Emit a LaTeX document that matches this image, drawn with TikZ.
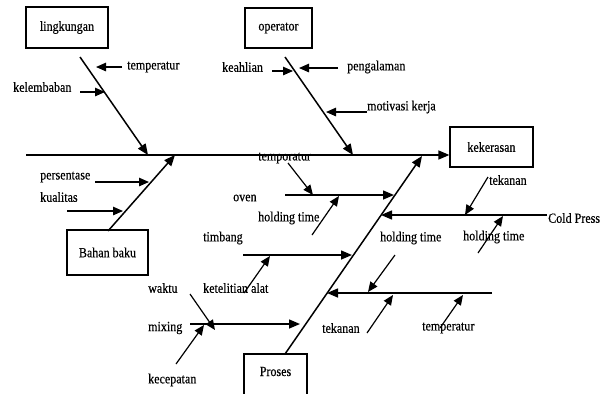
\documentclass[tikz,border=0pt]{standalone}
\usepackage{fontspec}
\setmainfont{Liberation Serif}[FakeStretch=0.86, FakeBold=0.4]
\usetikzlibrary{arrows.meta}

\begin{document}
\begin{tikzpicture}[x=1pt, y=-1pt, every node/.style={font=\fontsize{14}{16}\selectfont, inner sep=0pt},
		box/.style={draw, line width=1.2pt},
		bone/.style={line width=1.5pt, -{Triangle[length=11pt,width=9pt]}},
		cause/.style={line width=1.2pt, -{Triangle[length=10pt,width=8.5pt]}},
		lbl/.style={anchor=west}]
		\useasboundingbox (0,0) rectangle (606,394);
		\node[box, minimum width=82pt, minimum height=41pt] (lingkungan) at (67,27.5) {lingkungan};
		\node[box, minimum width=67pt, minimum height=40pt] (operator) at (278.5,28) {operator};
		\node[box, minimum width=83pt, minimum height=40pt] (kekerasan) at (491.5,147) {kekerasan};
		\node[box, minimum width=81pt, minimum height=45pt] (bahan) at (107.5,252.5) {Bahan baku};
		\node[box, minimum width=63pt, minimum height=46pt, text height=9pt, text depth=11pt] (proses) at (275.5,377) {Proses};
		\coordinate (spineL) at (26,155);
		\coordinate (lingT) at (80,57);
		\coordinate (lingH) at (148,155);
		\coordinate (opT) at (285,57);
		\coordinate (opH) at (353,155);
		\coordinate (bahanT) at (108,231);
		\coordinate (bahanH) at (175,155);
		\coordinate (prosesT) at (285,354);
		\coordinate (prosesH) at (422,156);
		\draw[bone] (spineL) -- (spineL -| kekerasan.west);
		\draw[bone] (lingT) -- (lingH);
		\draw[bone] (opT) -- (opH);
		\draw[bone] (bahanT) -- (bahanH);
		\draw[bone] (prosesT) -- (prosesH);
		\node[lbl] (tempL) at (127,67) {temperatur};
		\node[lbl] (lembab) at (13,87) {kelembaban};
		\draw[cause] (122,67) -- (96,67);
		\draw[cause] (80,92) -- (105,92);
		\node[lbl] (ahli) at (222,67) {keahlian};
		\node[lbl] (alam) at (347,67) {pengalaman};
		\node[lbl] (motiv) at (367,107) {motivasi kerja};
		\draw[cause] (338,68) -- (299,68);
		\draw[cause] (272,71) -- (293,71);
		\draw[cause] (367,112) -- (326,112);
		\node[lbl] (persen) at (40,177) {persentase};
		\node[lbl] (kual) at (40,197) {kualitas};
		\draw[cause] (95,182) -- (149,182);
		\draw[cause] (67,211) -- (123,211);
		\coordinate (ovenL) at (285,195);
		\coordinate (ovenR) at (394,195);
		\coordinate (timbL) at (243,255);
		\coordinate (timbR) at (352,255);
		\coordinate (mixL) at (190,324);
		\coordinate (mixR) at (300,324);
		\coordinate (coldR) at (547,215);
		\coordinate (coldL) at (381,215);
		\coordinate (lowR) at (492,293);
		\coordinate (lowL) at (327,293);
		\draw[bone] (ovenL) -- (ovenR);
		\draw[bone] (timbL) -- (timbR);
		\draw[bone] (mixL) -- (mixR);
		\draw[bone] (coldR) -- (coldL);
		\draw[bone] (lowR) -- (lowL);
		\node[lbl] (tempO) at (258,158) {temporatur};
		\node[lbl] (oven) at (233,198) {oven};
		\node[lbl] (holdO) at (258,218) {holding time};
		\draw[cause] (288,163) -- (313,195);
		\draw[cause] (312,235) -- (339,196);
		\node[lbl] (timbang) at (203,238) {timbang};
		\node[lbl] (teliti) at (203,288) {ketelitian alat};
		\draw[cause] (244,293) -- (270,256);
		\node[lbl] (waktu) at (148,288) {waktu};
		\node[lbl] (mixing) at (148,328) {mixing};
		\node[lbl] (cepat) at (148,380) {kecepatan};
		\draw[cause] (190,294) -- (215,330);
		\draw[cause] (176,364) -- (204,325);
		\node[lbl] (cold) at (548,218) {Cold Press};
		\node[lbl] (tekanC) at (489,180) {tekanan};
		\node[lbl] (holdC) at (463,237) {holding time};
		\node[lbl] (holdM) at (380,238) {holding time};
		\draw[cause] (488,177) -- (465,215);
		\draw[cause] (478,253) -- (503,216);
		\draw[cause] (395,255) -- (368,292);
		\node[lbl] (tekanL) at (322,328) {tekanan};
		\node[lbl] (tempLo) at (422,328) {temperatur};
		\draw[cause] (367,333) -- (393,295);
		\draw[cause] (440,328) -- (463,295);
	\end{tikzpicture}
\end{document}
